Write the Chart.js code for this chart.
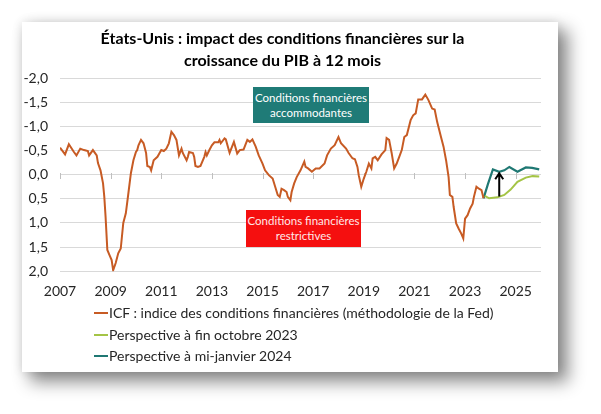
<!DOCTYPE html>
<html>
<head>
<meta charset="utf-8">
<script src="https://cdn.jsdelivr.net/npm/chart.js@4"></script>
<style>
  body { margin: 0; background: #fff; width: 601px; height: 414px; position: relative; overflow: hidden; font-family: Lato, sans-serif; }
  #card { position: absolute; left: 22px; top: 22px; width: 536px; height: 350px; background: #fff;
          box-shadow: 9px 9px 16px 1px rgba(0,0,0,0.45), 0 0 10px rgba(0,0,0,0.12); }
  #grafica { position: absolute; left: 0; top: 0; }
  .box { position: absolute; color: #fff; font-size: 11.5px; line-height: 15px; text-align: center; padding-top: 3px; box-sizing: border-box; }
  #legend { position: absolute; left: 72px; top: 280px; font-size: 14px; color: #262626; }
  .item { height: 21.5px; line-height: 21.5px; white-space: nowrap; }
  .swatch { display: inline-block; width: 14px; height: 2px; vertical-align: middle; margin-right: 1px; margin-top: -2px; }
</style>
</head>
<body>
<div id="card">
  <canvas id="grafica" width="536" height="293"></canvas>
  <div class="box" style="left:231px;top:65px;width:116px;height:36px;background:#1f7b77;">Conditions financières<br>accommodantes</div>
  <div class="box" style="left:224px;top:188px;width:115px;height:37px;background:#f50f0f;color:#ffe8e8;">Conditions financières<br>restrictives</div>
  <div id="legend"></div>
</div>
<script>
var titre = ['États-Unis : impact des conditions financières sur la', 'croissance du PIB à 12 mois']
var annees = [2007, 2009, 2011, 2013, 2015, 2017, 2019, 2021, 2023, 2025]
var noms = ['ICF : indice des conditions financières (méthodologie de la Fed)', 'Perspective à fin octobre 2023', 'Perspective à mi-janvier 2024']
var couleurs = ['#c75b24', '#a4c446', '#1f7873']

var icfDates = [2007.00, 2007.20, 2007.35, 2007.55, 2007.65, 2007.80, 2007.95, 2008.10, 2008.15, 2008.30,
  2008.45, 2008.50, 2008.60, 2008.70, 2008.75, 2008.80, 2008.87, 2008.96, 2009.04, 2009.10,
  2009.20, 2009.30, 2009.40, 2009.50, 2009.60, 2009.70, 2009.80, 2009.90, 2010.00, 2010.05,
  2010.10, 2010.20, 2010.30, 2010.40, 2010.45, 2010.55, 2010.60, 2010.70, 2010.85, 2011.00,
  2011.10, 2011.20, 2011.30, 2011.40, 2011.50, 2011.60, 2011.70, 2011.80, 2011.85, 2012.00,
  2012.05, 2012.10, 2012.25, 2012.30, 2012.35, 2012.45, 2012.55, 2012.70, 2012.75, 2012.80,
  2012.90, 2013.00, 2013.10, 2013.25, 2013.30, 2013.35, 2013.50, 2013.55, 2013.70, 2013.87,
  2014.00, 2014.10, 2014.25, 2014.40, 2014.50, 2014.60, 2014.73, 2014.85, 2015.00, 2015.10,
  2015.25, 2015.40, 2015.50, 2015.60, 2015.68, 2015.75, 2015.85, 2015.95, 2016.00, 2016.10,
  2016.15, 2016.25, 2016.35, 2016.50, 2016.65, 2016.70, 2016.80, 2016.95, 2017.10, 2017.25,
  2017.45, 2017.55, 2017.70, 2017.85, 2018.00, 2018.10, 2018.30, 2018.40, 2018.55, 2018.65,
  2018.75, 2018.80, 2018.90, 2019.00, 2019.10, 2019.20, 2019.30, 2019.35, 2019.45, 2019.55,
  2019.70, 2019.85, 2019.90, 2020.00, 2020.10, 2020.20, 2020.30, 2020.40, 2020.50, 2020.60,
  2020.70, 2020.85, 2020.95, 2021.05, 2021.15, 2021.30, 2021.43, 2021.55, 2021.70, 2021.80,
  2021.90, 2022.05, 2022.15, 2022.25, 2022.35, 2022.40, 2022.50, 2022.55, 2022.65, 2022.75,
  2022.85, 2022.93, 2023.00, 2023.10, 2023.20, 2023.30, 2023.35, 2023.45, 2023.55, 2023.65,
  2023.73]
var icf = [-0.56, -0.42, -0.63, -0.47, -0.40, -0.54, -0.51, -0.49, -0.40, -0.51,
  -0.40, -0.24, -0.09, 0.18, 0.46, 0.87, 1.56, 1.67, 1.77, 1.98,
  1.83, 1.63, 1.53, 1.00, 0.80, 0.39, -0.03, -0.30, -0.47, -0.51,
  -0.61, -0.72, -0.65, -0.45, -0.18, -0.16, -0.09, -0.30, -0.37, -0.51,
  -0.49, -0.54, -0.65, -0.89, -0.82, -0.72, -0.40, -0.54, -0.45, -0.30,
  -0.37, -0.47, -0.45, -0.37, -0.18, -0.16, -0.18, -0.37, -0.47, -0.40,
  -0.51, -0.61, -0.67, -0.67, -0.72, -0.65, -0.75, -0.73, -0.45, -0.68,
  -0.44, -0.51, -0.52, -0.72, -0.68, -0.73, -0.58, -0.40, -0.23, -0.09,
  0.01, 0.08, 0.25, 0.42, 0.46, 0.29, 0.32, 0.36, 0.46, 0.53,
  0.36, 0.18, 0.05, -0.09, -0.27, -0.16, -0.13, -0.06, -0.13, -0.13,
  -0.23, -0.40, -0.54, -0.61, -0.78, -0.65, -0.54, -0.45, -0.34, -0.32,
  -0.16, 0.01, 0.25, 0.08, -0.06, -0.23, -0.13, -0.34, -0.37, -0.30,
  -0.42, -0.51, -0.76, -0.72, -0.45, -0.13, -0.23, -0.37, -0.51, -0.78,
  -0.82, -1.13, -1.23, -1.27, -1.56, -1.56, -1.66, -1.55, -1.37, -1.35,
  -1.09, -0.78, -0.58, -0.30, 0.05, 0.42, 0.46, 0.67, 1.01, 1.12,
  1.22, 1.32, 0.91, 0.84, 0.70, 0.60, 0.46, 0.25, 0.29, 0.32,
  0.49]

var octDates = [2023.78, 2023.95, 2024.28, 2024.55, 2024.80, 2025.07, 2025.40, 2025.67, 2025.93]
var octobre = [0.44, 0.49, 0.47, 0.42, 0.31, 0.15, 0.06, 0.03, 0.04]

var janDates = [2023.73, 2023.90, 2024.10, 2024.35, 2024.55, 2024.75, 2025.07, 2025.40, 2025.65, 2025.93]
var janvier = [0.49, 0.20, -0.11, -0.06, -0.09, -0.16, -0.06, -0.15, -0.14, -0.11]

// fleche entre les deux perspectives
var flecheX = 2024.35
var flecheDe = 0.45
var flecheA = -0.03

function points(xs, ys) {
  return xs.map(function (v, i) { return { x: v, y: ys[i] } })
}

var extras = {
  id: 'extras',
  beforeDatasetsDraw: function (chart) {
    var ctx = chart.ctx, x = chart.scales.x, y = chart.scales.y
    var y0 = Math.round(y.getPixelForValue(0))
    ctx.save()
    ctx.strokeStyle = '#bfbfbf'
    ctx.lineWidth = 1
    annees.forEach(function (v) {
      var px = Math.round(x.getPixelForValue(v)) + 0.5
      ctx.beginPath()
      ctx.moveTo(px, y0 - 2)
      ctx.lineTo(px, y0 + 4)
      ctx.stroke()
    })
    ctx.restore()
  },
  afterDatasetsDraw: function (chart) {
    var ctx = chart.ctx, x = chart.scales.x, y = chart.scales.y
    var px = x.getPixelForValue(flecheX)
    var yb = y.getPixelForValue(flecheDe)
    var yt = y.getPixelForValue(flecheA)
    ctx.save()
    ctx.strokeStyle = '#000'
    ctx.lineWidth = 2
    ctx.beginPath()
    ctx.moveTo(px, yb)
    ctx.lineTo(px, yt + 1)
    ctx.moveTo(px - 4, yt + 6)
    ctx.lineTo(px, yt)
    ctx.lineTo(px + 4, yt + 6)
    ctx.stroke()
    ctx.restore()
  }
}

var ctx = document.getElementById('grafica').getContext('2d')
var chart = new Chart(ctx, {
  type: 'line',
  data: {
    datasets: [
      { label: noms[0], data: points(icfDates, icf), borderColor: couleurs[0], borderWidth: 2 },
      { label: noms[1], data: points(octDates, octobre), borderColor: couleurs[1], borderWidth: 2 },
      { label: noms[2], data: points(janDates, janvier), borderColor: couleurs[2], borderWidth: 2.2 }
    ]
  },
  options: {
    responsive: false,
    animation: false,
    devicePixelRatio: 1,
    layout: { padding: { left: 2, right: 17, top: 0, bottom: 3 } },
    elements: { point: { radius: 0 }, line: { tension: 0 } },
    scales: {
      x: {
        type: 'linear',
        min: 2007,
        max: 2026,
        afterBuildTicks: function (scale) {
          scale.ticks = annees.map(function (v) { return { value: v } })
        },
        ticks: { autoSkip: false, maxRotation: 0, padding: 12, color: '#262626', font: { family: 'Lato', size: 14 },
                 callback: function (v) { return String(v) } },
        grid: { display: false, drawTicks: false },
        border: { display: false }
      },
      y: {
        reverse: true,
        min: -2,
        max: 2,
        afterFit: function (scale) { scale.width = 36 },
        ticks: { stepSize: 0.5, padding: 12, color: '#262626', font: { family: 'Lato', size: 14 },
                 callback: function (v) { return v.toFixed(1).replace('.', ',') } },
        grid: { color: '#d9d9d9', drawTicks: false },
        border: { display: false }
      }
    },
    plugins: {
      legend: { display: false },
      tooltip: { enabled: false },
      title: {
        display: true,
        text: titre,
        color: '#000',
        font: { family: 'Lato', size: 16, weight: 'bold', lineHeight: 1.38 },
        padding: { top: 6, bottom: 6 }
      }
    }
  },
  plugins: [extras]
})

var leg = document.getElementById('legend')
noms.forEach(function (n, i) {
  var d = document.createElement('div')
  d.className = 'item'
  d.innerHTML = '<span class="swatch" style="background:' + couleurs[i] + '"></span>' + n
  leg.appendChild(d)
})
</script>
</body>
</html>
